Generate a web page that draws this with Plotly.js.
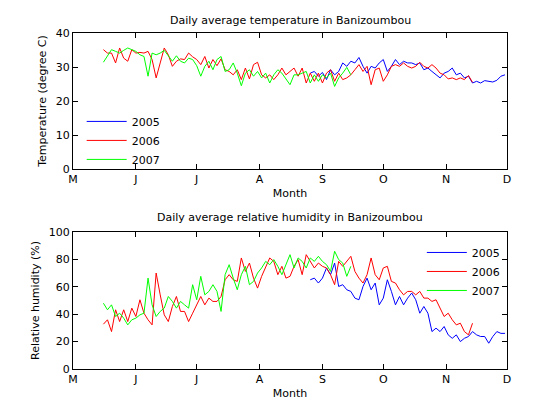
<!DOCTYPE html>
<html>
<head>
<meta charset="utf-8">
<script src="https://cdn.plot.ly/plotly-3.0.1.min.js"></script>
<style>html,body{margin:0;padding:0;background:#fff;}#chart{width:560px;height:420px;}</style>
</head>
<body>
<div id="chart"></div>
<script>
// Day-of-year axis: month starts (May..Dec) and their labels
const monthTickDays = [121, 152, 182, 213, 244, 274, 305, 335];
const monthTickText = ["M", "J", "J", "A", "S", "O", "N", "D"];
const years = ["2005", "2006", "2007"];
const colors = ["#0000ff", "#ff0000", "#00ff00"];

// sampling: every 2nd day starting from these days of year
const start2005 = 238, start2006 = 136, start2007 = 136, stepDays = 2;

// Temperature (degree C)
const temp2005 = [28.2,28.7,27.3,28.4,26.3,29.2,27.7,28.7,31.2,30.2,31.7,31.2,32.8,30.2,28.2,30.2,29.7,31.2,32.2,28.7,
  30.2,32.2,30.7,31.7,31.2,31.2,30.7,31.2,29.2,29.7,28.7,27.7,26.8,28.2,28.7,29.7,27.7,28.2,26.8,27.3,
  25.3,25.8,25.3,26.0,25.8,25.6,26.1,27.3,27.7];
const temp2006 = [35.1,34.1,34.1,31.2,35.6,32.6,31.7,35.1,34.1,34.3,34.1,34.6,32.2,26.8,31.2,35.6,33.6,30.2,31.7,32.4,
  32.2,34.1,33.0,32.2,30.7,33.1,29.7,32.2,30.4,32.4,29.2,28.7,27.7,29.2,26.3,29.7,26.5,30.7,31.4,27.7,
  26.8,27.7,26.3,27.7,29.7,27.7,28.7,29.7,27.3,29.7,25.3,28.2,25.8,28.2,25.3,28.2,29.2,25.8,28.2,26.3,
  26.8,27.7,29.2,30.7,28.7,30.2,24.8,29.2,29.7,25.8,27.7,30.2,30.7,30.2,31.2,30.2,29.7,30.2,31.4,30.2,
  29.7,30.7,29.7,28.2,27.7,26.5,26.8,26.3,26.8,26.3,27.5,25.5];
const temp2007 = [31.4,33.3,35.1,34.6,34.1,34.9,35.6,35.1,34.6,33.6,33.1,27.3,34.1,33.6,34.1,34.9,33.1,31.7,33.3,31.7,
  31.2,32.6,32.2,30.4,27.3,30.2,31.7,29.2,32.2,33.1,28.7,29.2,31.2,28.2,24.5,28.2,29.2,27.3,28.7,26.8,
  28.2,25.3,27.7,29.2,28.2,26.3,24.8,27.7,27.7,28.2,28.7,25.3,27.7,25.8,27.7,26.8,28.2,24.3,26.8,28.2,
  29.9,27.7];

// Relative humidity (%)
const rh2005 = [65.1,66.3,62.7,66.3,73.7,68.8,77.3,60.2,61.5,57.8,56.6,51.7,50.5,60.2,66.3,57.8,62.7,46.8,51.7,65.1,
  56.6,46.8,52.9,46.8,51.7,55.4,50.5,40.7,45.6,40.7,27.3,29.8,27.3,31.0,24.9,22.4,24.9,20.0,22.4,23.7,
  27.3,24.9,23.7,23.7,18.8,23.7,27.3,26.0,26.0];
const rh2006 = [32.7,35.9,27.3,43.2,34.6,43.2,34.6,44.4,38.3,50.5,40.7,35.9,32.2,70.0,54.1,39.5,34.6,45.6,52.9,42.0,
  42.0,34.6,40.7,46.8,52.9,46.8,51.7,49.3,49.3,52.9,65.1,68.8,65.1,63.9,81.0,71.2,77.3,66.3,59.0,67.6,
  73.7,81.0,78.5,68.8,74.9,66.3,67.6,74.9,79.8,68.8,83.4,78.5,73.7,77.3,74.9,73.7,68.8,61.5,78.5,74.9,
  78.5,82.2,71.2,66.3,62.7,68.8,81.0,68.8,65.1,73.7,74.9,63.9,62.7,57.8,54.1,56.6,56.6,54.1,56.6,51.7,
  51.7,49.3,50.5,44.4,38.3,40.7,35.9,32.2,33.4,27.3,24.9,33.4];
const rh2007 = [48.0,43.2,46.8,38.3,40.7,37.1,32.2,35.9,37.1,39.5,40.7,66.3,46.8,38.3,42.0,44.4,52.9,49.3,44.4,49.3,
  46.8,44.4,61.5,50.5,67.6,54.1,56.6,61.5,56.6,42.0,68.8,76.1,66.3,57.8,68.8,74.9,61.5,63.9,70.0,73.7,
  78.5,76.1,79.8,74.9,68.8,76.1,83.4,73.7,81.0,78.5,73.7,81.0,78.5,82.2,78.5,76.1,71.2,85.9,79.8,77.3,
  67.6,74.9];

function dayAxis(start, n) { const a = []; for (let i = 0; i < n; i++) a.push(start + stepDays * i); return a; }

const FONT = "DejaVu Sans, Liberation Sans, Arial, sans-serif";
const tempSeries = [[start2005, temp2005], [start2006, temp2006], [start2007, temp2007]];
const rhSeries = [[start2005, rh2005], [start2006, rh2006], [start2007, rh2007]];

const traces = [];
tempSeries.forEach((s, k) => traces.push({
  x: dayAxis(s[0], s[1].length), y: s[1], type: "scatter", mode: "lines", name: years[k],
  line: {color: colors[k], width: 1}, xaxis: "x", yaxis: "y", legend: "legend"
}));
rhSeries.forEach((s, k) => traces.push({
  x: dayAxis(s[0], s[1].length), y: s[1], type: "scatter", mode: "lines", name: years[k],
  line: {color: colors[k], width: 1}, xaxis: "x2", yaxis: "y2", legend: "legend2"
}));

const txt = {family: FONT, size: 11, color: "#000"};
const axBase = {
  showline: true, mirror: "ticks", linecolor: "#000", linewidth: 1, ticks: "inside", ticklen: 5,
  tickcolor: "#000", showgrid: false, zeroline: false, tickfont: txt
};
const xAx = (anchor) => Object.assign({}, axBase, {
  range: [121, 335], tickmode: "array", tickvals: monthTickDays, ticktext: monthTickText, anchor: anchor,
  title: {text: "Month", font: txt, standoff: 4}
});

const layout = {
  width: 560, height: 420, paper_bgcolor: "#fff", plot_bgcolor: "#fff",
  margin: {l: 73, r: 53, t: 33, b: 51},
  showlegend: true,
  xaxis: xAx("y"),
  yaxis: Object.assign({}, axBase, {domain: [0.595, 1], range: [0, 40], tickvals: [0, 10, 20, 30, 40],
    title: {text: "Temperature (degree C)", font: txt, standoff: 6}}),
  xaxis2: xAx("y2"),
  yaxis2: Object.assign({}, axBase, {domain: [0, 0.408], range: [0, 100], tickvals: [0, 20, 40, 60, 80, 100],
    title: {text: "Relative humidity (%)", font: txt, standoff: 6}}),
  legend: {x: 0.02, y: 0.78, xanchor: "left", yanchor: "top", bgcolor: "rgba(255,255,255,0)", borderwidth: 0,
    font: txt, tracegroupgap: 0, itemwidth: 40},
  legend2: {x: 0.995, y: 0.39, xanchor: "right", yanchor: "top", bgcolor: "rgba(255,255,255,0)", borderwidth: 0,
    font: txt, tracegroupgap: 0, itemwidth: 40},
  annotations: [
    {text: "Daily average temperature in Banizoumbou", xref: "paper", yref: "paper", x: 0.5, y: 1, yshift: 13,
     yanchor: "middle", showarrow: false, font: txt},
    {text: "Daily average relative humidity in Banizoumbou", xref: "paper", yref: "paper", x: 0.5, y: 0.408, yshift: 14,
     yanchor: "middle", showarrow: false, font: txt}
  ]
};

Plotly.newPlot("chart", traces, layout, {displayModeBar: false, staticPlot: true});
</script>
</body>
</html>
